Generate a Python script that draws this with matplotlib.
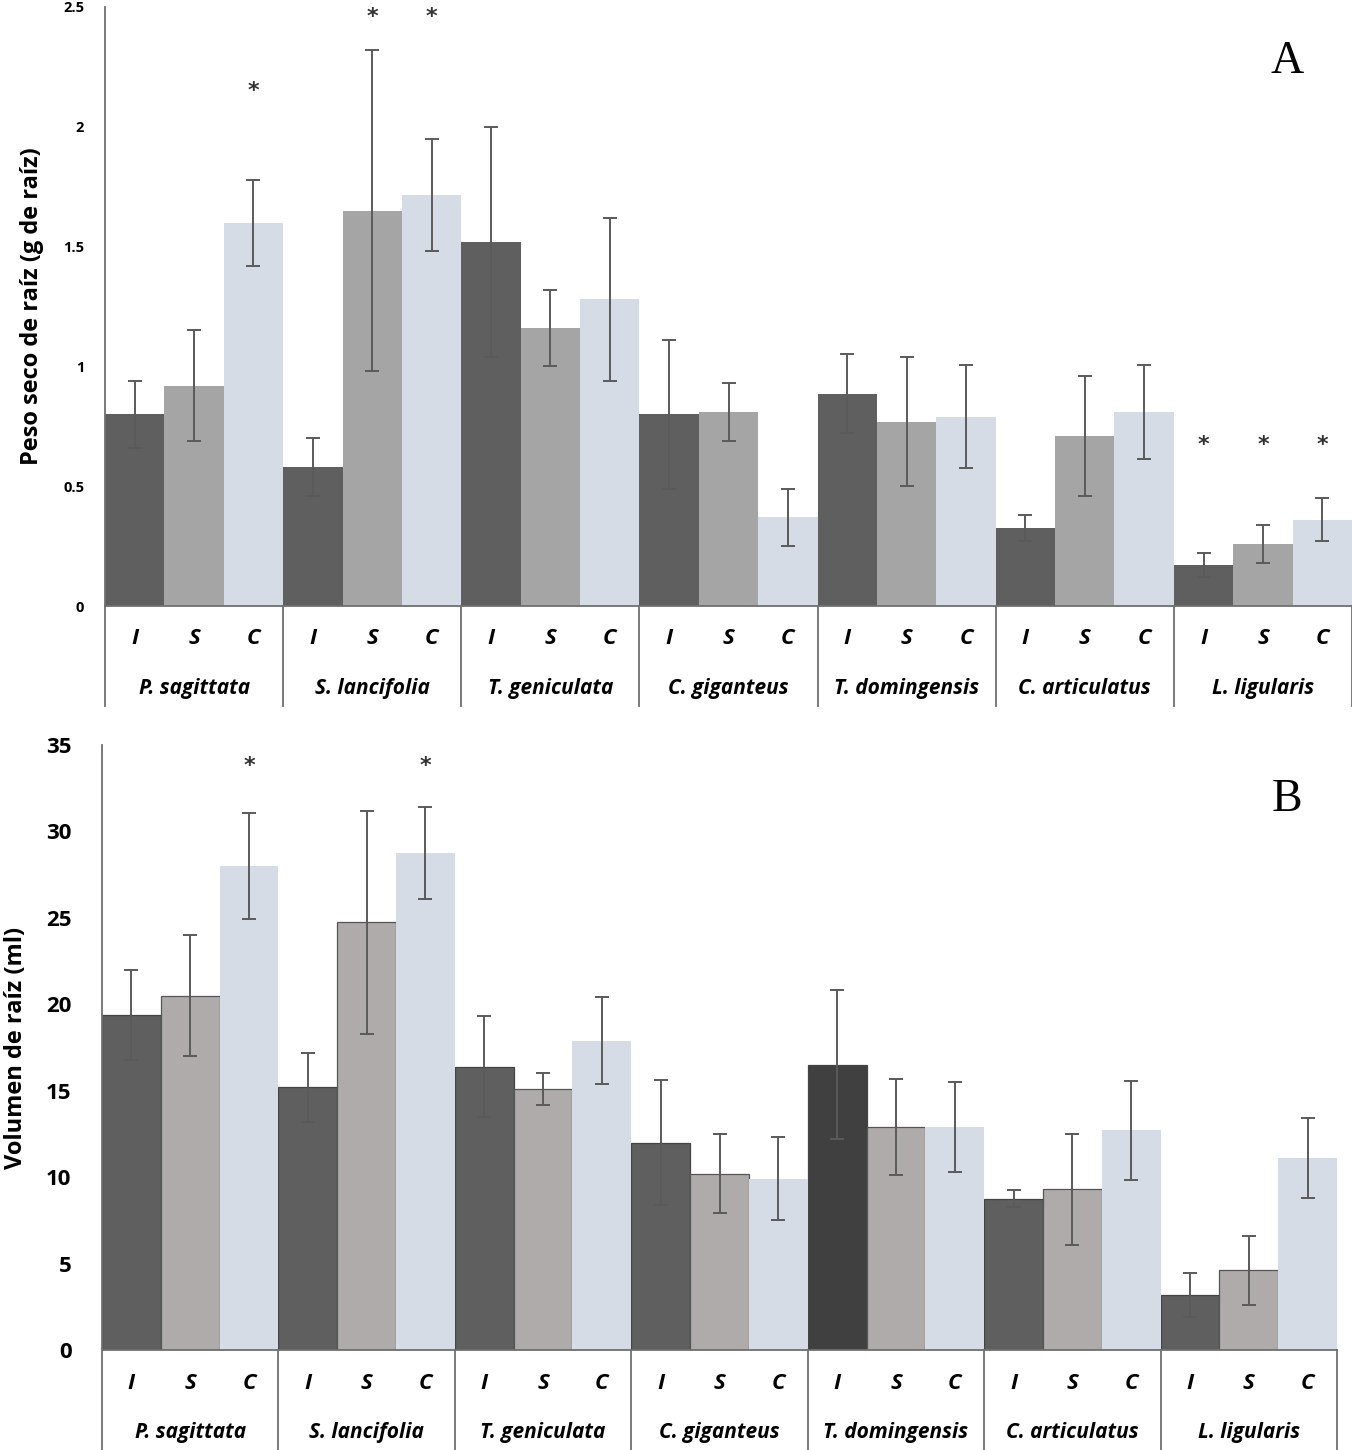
import matplotlib
matplotlib.use("Agg")
import matplotlib.pyplot as plt
import numpy as np

species = ["P. sagittata", "S. lancifolia", "T. geniculata", "C. giganteus",
           "T. domingensis", "C. articulatus", "L. ligularis"]
treatments = ["I", "S", "C"]

# Panel A: peso seco de raiz (g)
peso_I = [0.80, 0.58, 1.52, 0.80, 0.885, 0.325, 0.17]
peso_S = [0.92, 1.65, 1.16, 0.81, 0.77, 0.71, 0.26]
peso_C = [1.60, 1.715, 1.28, 0.37, 0.79, 0.81, 0.36]
peso_err_I = [0.14, 0.12, 0.48, 0.31, 0.165, 0.055, 0.05]
peso_err_S = [0.23, 0.67, 0.16, 0.12, 0.27, 0.25, 0.08]
peso_err_C = [0.18, 0.235, 0.34, 0.12, 0.215, 0.195, 0.09]
peso_stars = [(2, 2.15), (4, 2.46), (5, 2.46), (18, 0.67), (19, 0.67), (20, 0.67)]

# Panel B: volumen de raiz (ml)
vol_I = [19.4, 15.2, 16.4, 12.0, 16.5, 8.75, 3.2]
vol_S = [20.5, 24.75, 15.1, 10.2, 12.9, 9.3, 4.6]
vol_C = [28.0, 28.75, 17.9, 9.9, 12.9, 12.7, 11.1]
vol_err_I = [2.6, 2.0, 2.9, 3.6, 4.3, 0.5, 1.27]
vol_err_S = [3.5, 6.45, 0.9, 2.3, 2.8, 3.2, 2.0]
vol_err_C = [3.06, 2.65, 2.5, 2.4, 2.6, 2.86, 2.3]
vol_stars = [(2, 33.8), (5, 33.8)]

plt.rcParams['font.family'] = ['Open Sans', 'DejaVu Sans']


def draw_panel(ax, vals, errs, colors, edges, ymax, yticks, yticklabels, ylabel,
               stars, letter, letter_xy, tick_size, tick_pad, label_x):
    n = len(species)
    for j in range(3):
        x = np.arange(n) * 3 + j
        ax.bar(x, vals[j], width=1.0, color=colors[j], edgecolor=edges[j],
               linewidth=0.9 if edges[j] != 'none' else 0, zorder=2)
        ax.errorbar(x, vals[j], yerr=errs[j], fmt='none', ecolor='#5a5a5a',
                    elinewidth=1.4, capsize=5, capthick=1.4, zorder=3)
    for xi, yi in stars:
        ax.text(xi, yi, "*", ha='center', va='center', fontsize=16,
                color='#333333', family='DejaVu Sans', fontweight='bold')

    ax.set_xlim(-0.5, 3 * n - 0.5)
    ax.set_ylim(0, ymax)
    ax.set_yticks(yticks)
    ax.set_yticklabels(yticklabels, fontsize=tick_size, fontweight='bold')
    ax.tick_params(axis='y', length=0, pad=tick_pad)
    ax.set_xticks([])
    for s in ['top', 'right']:
        ax.spines[s].set_visible(False)
    for s in ['left', 'bottom']:
        ax.spines[s].set_color('#707070')
        ax.spines[s].set_linewidth(1.3)
    ax.set_ylabel(ylabel, fontsize=17, fontweight='bold')
    ax.yaxis.set_label_coords(label_x, 0.5)

    # category table below the axis
    tr = ax.get_xaxis_transform()
    for i in range(n + 1):
        ax.plot([i * 3 - 0.5, i * 3 - 0.5], [0, -0.167], transform=tr,
                color='#707070', lw=1.3, clip_on=False)
    for i in range(n):
        for j, t in enumerate(treatments):
            ax.text(i * 3 + j, -0.055, t, transform=tr, ha='center', va='center',
                    fontsize=16, fontweight='bold', fontstyle='italic')
        ax.text(i * 3 + 1, -0.137, species[i], transform=tr, ha='center',
                va='center', fontsize=15, fontweight='bold', fontstyle='italic')

    ax.text(letter_xy[0], letter_xy[1], letter, transform=ax.transAxes,
            ha='center', va='center', fontsize=33, family='Liberation Serif')


fig = plt.figure(figsize=(13.52, 14.5), dpi=100)

axA = fig.add_axes([105 / 1352, 1 - 606 / 1450, 1247 / 1352, 599 / 1450])
draw_panel(axA, [peso_I, peso_S, peso_C], [peso_err_I, peso_err_S, peso_err_C],
           ['#5f5f5f', '#a5a5a5', '#d6dce5'], ['none', 'none', 'none'],
           2.5, [0, 0.5, 1, 1.5, 2, 2.5], ["0", "0.5", "1", "1.5", "2", "2.5"],
           "Peso seco de raíz (g de raíz)", peso_stars, "A", (0.948, 0.908),
           10.5, 15, -0.049)

axB = fig.add_axes([102 / 1352, 1 - 1350 / 1450, 1235 / 1352, 605 / 1450])
draw_panel(axB, [vol_I, vol_S, vol_C], [vol_err_I, vol_err_S, vol_err_C],
           ['#5f5f5f', '#afabab', '#d6dce5'], ['#444444', '#555555', 'none'],
           35, list(range(0, 36, 5)), [str(v) for v in range(0, 36, 5)],
           "Volumen de raíz (ml)", vol_stars, "B", (0.9595, 0.909),
           16, 22, -0.060)
# T. domingensis "I" bar is drawn darker in the original
axB.patches[4].set_facecolor('#404040')

fig.savefig("out.png", dpi=100)
